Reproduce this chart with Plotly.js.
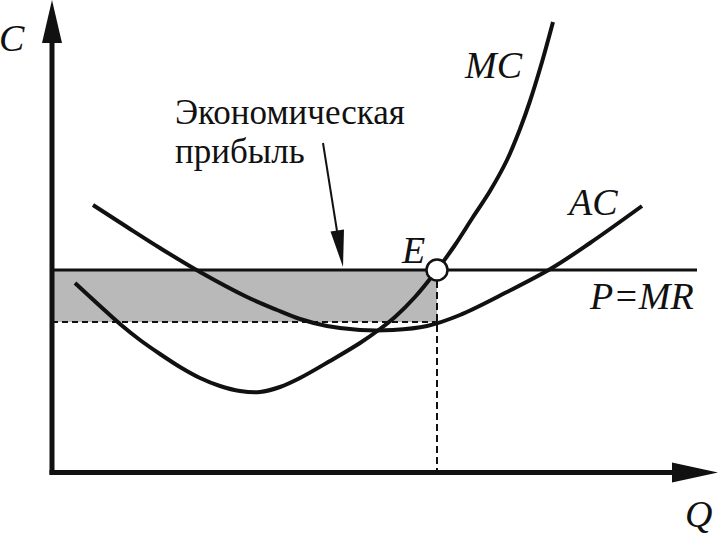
<!DOCTYPE html>
<html>
<head>
<meta charset="utf-8">
<script src="https://cdn.plot.ly/plotly-3.0.1.min.js"></script>
<style>
html,body{margin:0;padding:0;background:#fff;}
#chart{width:718px;height:536px;}
</style>
</head>
<body>
<div id="chart"></div>
<script>
// Marginal cost curve (Q, C)
const mcQ = [2.3, 4.8, 6.8, 8.8, 10.8, 12.8, 14.8, 16.8, 18.8, 20.8, 22.8, 24.8, 27.8, 30.8, 32.8, 34.3, 36.3, 38.5, 40.3, 42.1, 43.8, 45.5, 46.8, 47.8, 49.0, 50.1];
const mcC = [18.9, 16.6, 14.8, 13.2, 11.8, 10.5, 9.4, 8.6, 8.1, 8.0, 8.5, 9.4, 11.1, 12.9, 14.3, 15.5, 17.5, 20.2, 22.7, 25.5, 28.1, 31.2, 34.3, 37.1, 41.0, 45.0];
// Average cost curve (Q, C)
const acQ = [4.1, 7.5, 10.8, 14.8, 19.5, 22.5, 24.8, 27.5, 30.8, 34.1, 37.5, 40.8, 45.5, 50.0, 53.8, 59.0];
const acC = [26.7, 24.5, 22.4, 20.0, 17.5, 16.2, 15.3, 14.6, 14.2, 14.2, 14.6, 15.7, 18.0, 20.4, 22.9, 26.6];
// Price line P = MR, equilibrium E and profit rectangle
const priceP = 20.2;
const eqQ = 38.5;
const acAtE = 15.0;
const priceQmax = 64.5;
const labels = {C: "C", Q: "Q", MC: "MC", AC: "AC", PMR: "P=MR", E: "E", profit1: "Экономическая", profit2: "прибыль"};

const serif = "Liberation Serif";
const black = "#111";

const traces = [
  {x: [0, eqQ, eqQ, 0, 0], y: [acAtE, acAtE, priceP, priceP, acAtE], mode: "lines", fill: "toself",
   fillcolor: "#b9b9b9", line: {width: 0}, hoverinfo: "skip"},
  {x: [0, eqQ], y: [acAtE, acAtE], mode: "lines", line: {color: black, width: 2, dash: "6px,4px"}},
  {x: [eqQ, eqQ], y: [priceP, 0], mode: "lines", line: {color: black, width: 2, dash: "7px,4px"}},
  {x: [0, priceQmax], y: [priceP, priceP], mode: "lines", line: {color: black, width: 3}},
  {x: mcQ, y: mcC, mode: "lines", line: {color: black, width: 4, shape: "spline", smoothing: 1}},
  {x: acQ, y: acC, mode: "lines", line: {color: black, width: 4, shape: "spline", smoothing: 1}},
  {x: [eqQ], y: [priceP], mode: "markers", marker: {size: 21, color: "#fff", line: {color: black, width: 2.5}}}
];

const shapes = [
  // y axis
  {type: "line", x0: 0, x1: 0, y0: -0.25, y1: 43.2, line: {color: black, width: 5}},
  {type: "path", path: "M -1.0,42.9 L 1.0,42.9 L 0,47.2 Z", fillcolor: black, line: {width: 0}},
  // x axis
  {type: "line", x0: -0.25, x1: 62.3, y0: -0.05, y1: -0.05, line: {color: black, width: 5}},
  {type: "path", path: "M 62.0,-1.05 L 62.0,0.95 L 66.6,-0.05 Z", fillcolor: black, line: {width: 0}},
  // pointer arrow to profit area
  {type: "line", x0: 27.1, y0: 32.9, x1: 28.5, y1: 24.1, line: {color: black, width: 2}},
  {type: "path", path: "M 27.85,24.05 L 29.2,24.25 L 29.1,20.5 Z", fillcolor: black, line: {width: 0}}
];

const ital = (s) => ({family: serif, size: s, color: black, style: "italic"});
const annotations = [
  {x: -4.0, y: 43.4, text: labels.C, showarrow: false, font: ital(38)},
  {x: 64.6, y: -4.2, text: labels.Q, showarrow: false, font: ital(38)},
  {x: 44.1, y: 40.7, text: labels.MC, showarrow: false, font: ital(38)},
  {x: 54.0, y: 27.0, text: labels.AC, showarrow: false, font: ital(38)},
  {x: 58.9, y: 17.6, text: labels.PMR, showarrow: false, font: ital(38)},
  {x: 36.1, y: 22.2, text: labels.E, showarrow: false, font: ital(38)},
  {x: 12.1, y: 36.0, text: labels.profit1, showarrow: false, xanchor: "left", font: {family: serif, size: 35, color: black}},
  {x: 12.1, y: 32.1, text: labels.profit2, showarrow: false, xanchor: "left", font: {family: serif, size: 35, color: black}}
];

const layout = {
  width: 718, height: 536,
  margin: {l: 0, r: 0, t: 0, b: 0, pad: 0},
  paper_bgcolor: "#fff", plot_bgcolor: "#fff",
  showlegend: false,
  font: {family: serif},
  xaxis: {range: [-5.2, 66.6], visible: false, fixedrange: true},
  yaxis: {range: [-6.4, 47.2], visible: false, fixedrange: true},
  shapes: shapes,
  annotations: annotations
};

Plotly.newPlot("chart", traces, layout, {displayModeBar: false, staticPlot: true});
</script>
</body>
</html>
